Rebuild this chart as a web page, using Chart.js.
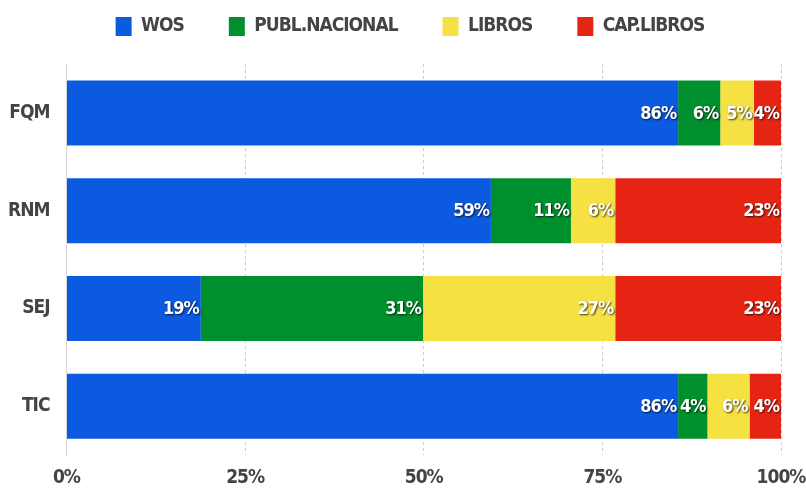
<!DOCTYPE html>
<html>
<head>
<meta charset="utf-8">
<script src="https://cdn.jsdelivr.net/npm/chart.js@4/dist/chart.umd.min.js"></script>
<style>
  html, body { margin: 0; padding: 0; background: #fff; }
  #wrap { width: 806px; height: 488px; }
</style>
</head>
<body>
<div id="wrap"><canvas id="c" width="806" height="488"></canvas></div>
<script>
const categories = ['FQM', 'RNM', 'SEJ', 'TIC'];
const seriesNames = ['WOS', 'PUBL.NACIONAL', 'LIBROS', 'CAP.LIBROS'];
const wos = [85.6, 59.4, 18.8, 85.6];
const publNacional = [5.9, 11.2, 31.1, 4.1];
const libros = [4.7, 6.2, 26.9, 5.9];
const capLibros = [3.8, 23.2, 23.2, 4.4];
const xTicks = [0, 25, 50, 75, 100];
const colors = ['#0c5ae0', '#008f2d', '#f6e143', '#e52414'];

const FONT = '"DejaVu Sans Condensed", "Liberation Sans", sans-serif';
const SPACING = '-1px';

const tightText = {
  id: 'tightText',
  afterInit(chart) { chart.ctx.letterSpacing = SPACING; },
  beforeUpdate(chart) { chart.ctx.letterSpacing = SPACING; },
  beforeLayout(chart) {
    chart.ctx.letterSpacing = SPACING;
    const lg = chart.legend;
    if (lg && !lg._patched) {
      const f = lg.fit.bind(lg);
      lg.fit = function () { f(); this.height += 18; };
      lg._patched = true;
    }
  },
  beforeDraw(chart) { chart.ctx.letterSpacing = SPACING; }
};

const valueLabels = {
  id: 'valueLabels',
  afterDatasetsDraw(chart) {
    const ctx = chart.ctx;
    ctx.save();
    ctx.letterSpacing = SPACING;
    ctx.font = 'bold 18px ' + FONT;
    ctx.textAlign = 'right';
    ctx.textBaseline = 'middle';
    chart.data.datasets.forEach((ds, di) => {
      const meta = chart.getDatasetMeta(di);
      meta.data.forEach((el, i) => {
        const v = ds.data[i];
        const txt = Math.round(v) + '%';
        ctx.shadowColor = 'rgba(0,0,0,0.75)';
        ctx.shadowBlur = 2;
        ctx.shadowOffsetX = 1;
        ctx.shadowOffsetY = 1;
        ctx.fillStyle = '#ffffff';
        ctx.fillText(txt, el.x - 2, el.y + 1);
      });
    });
    ctx.restore();
  }
};

const dataArrays = [wos, publNacional, libros, capLibros];

new Chart(document.getElementById('c'), {
  type: 'bar',
  data: {
    labels: categories,
    datasets: seriesNames.map((name, i) => ({
      label: name,
      data: dataArrays[i],
      backgroundColor: colors[i],
      borderWidth: 0,
      barPercentage: 0.665,
      categoryPercentage: 1.0
    }))
  },
  options: {
    indexAxis: 'y',
    responsive: false,
    animation: false,
    layout: { padding: { left: -9, right: -23, top: -28, bottom: -12 } },
    plugins: {
      legend: {
        position: 'top',
        labels: {
          boxWidth: 16,
          boxHeight: 19,
          padding: 45,
          color: '#444444',
          font: { family: FONT, size: 19, weight: 'bold' }
        }
      },
      tooltip: { enabled: false }
    },
    scales: {
      x: {
        stacked: true,
        min: 0,
        max: 100,
        afterBuildTicks(axis) { axis.ticks = xTicks.map(v => ({ value: v })); },
        afterFit(scale) { scale.paddingRight = 25; },
        ticks: {
          callback: v => v + '%',
          color: '#444444',
          padding: 11,
          font: { family: FONT, size: 19, weight: 'bold' }
        },
        grid: {
          drawTicks: false,
          color: ctx => ctx.tick && ctx.tick.value === 0 ? 'rgba(0,0,0,0)' : '#cccccc',
          lineWidth: 1
        },
        border: { display: false, dash: [3, 3] }
      },
      y: {
        stacked: true,
        ticks: {
          color: '#444444',
          padding: 17,
          font: { family: FONT, size: 19, weight: 'bold' }
        },
        grid: { display: false, drawTicks: false },
        border: { display: true, color: '#d6d6d6', width: 1 }
      }
    }
  },
  plugins: [tightText, valueLabels]
});
</script>
</body>
</html>
